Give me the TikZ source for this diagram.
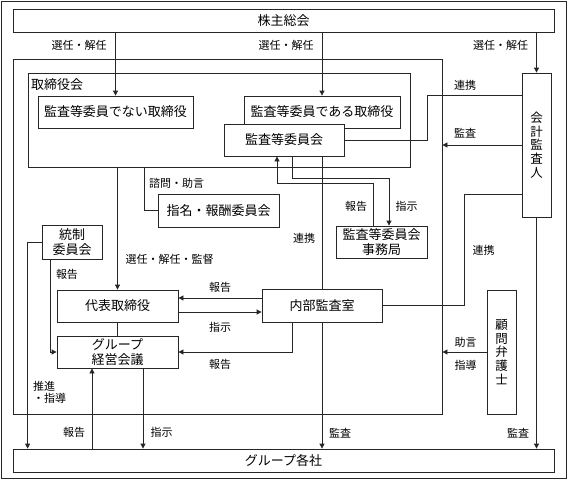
\documentclass[tikz,border=0pt]{standalone}
\usepackage{fontspec}
\setmainfont{Noto Sans CJK JP}
\usetikzlibrary{arrows.meta,calc}
\begin{document}
\begin{tikzpicture}[x=1pt,y=-1pt,
  line/.style={draw=black!85, line width=0.8pt},
  arr/.style={line, -{Triangle[length=5pt,width=5pt]}},
  box/.style={draw=black!85, line width=0.8pt, fill=white, inner sep=0pt, align=center, font=\fontsize{13}{15.5}\selectfont},
  vbox/.style={box, font=\fontsize{12.5}{13.7}\selectfont},
  frame/.style={draw=black!85, line width=0.8pt, inner sep=0pt},
  lbl/.style={font=\fontsize{11}{12}\selectfont, inner sep=0pt, align=left},
]
\useasboundingbox (0,0) rectangle (568,480);
\draw[line] (1,1) rectangle (566,478);

% frames
\node[frame, minimum width=429pt, minimum height=355pt] (company) at (227.5,236.5) {};
\node[frame, minimum width=382pt, minimum height=94pt] (board) at (219,120) {};
\node[anchor=west, inner sep=0pt, font=\fontsize{13}{15}\selectfont] (boardlbl) at (31,85) {取締役会};

% boxes
\node[box, minimum width=541pt, minimum height=23pt] (kabu) at (283.5,20.5) {株主総会};
\node[box, minimum width=155pt, minimum height=32pt] (kansanai) at (115.5,112) {監査等委員でない取締役};
\node[box, minimum width=156pt, minimum height=32pt] (kansaaru) at (322,112) {監査等委員である取締役};
\node[box, minimum width=120pt, minimum height=32pt] (iinkai) at (284,140) {監査等委員会};
\node[vbox, minimum width=29pt, minimum height=144pt] (kaikei) at (536.5,145) {会\\計\\監\\査\\人};
\node[box, minimum width=91pt, minimum height=32pt] (jimu) at (381.5,242) {監査等委員会\\事務局};
\node[box, minimum width=121pt, minimum height=33pt] (shimei) at (218.5,210.5) {指名・報酬委員会};
\node[box, minimum width=60pt, minimum height=34pt] (tosei) at (72,242) {統制\\委員会};
\node[box, minimum width=121pt, minimum height=32pt] (daihyo) at (117.5,306) {代表取締役};
\node[box, minimum width=121pt, minimum height=32pt] (gkaigi) at (117.5,352) {グループ\\経営会議};
\node[box, minimum width=120pt, minimum height=33pt] (naibu) at (322,305.5) {内部監査室};
\node[vbox, minimum width=29pt, minimum height=124pt] (komon) at (501.5,352) {顧\\問\\弁\\護\\士};
\node[box, minimum width=541pt, minimum height=23pt] (group) at (283.5,460.5) {グループ各社};

% connectors from shareholders
\draw[arr] (kabu.south -| kansanai.north) -- (kansanai.north);
\draw[arr] (kabu.south -| kansaaru.north) -- (kansaaru.north);
\draw[arr] (kabu.south -| kaikei.north) -- (kaikei.north);
\node[lbl] (l1) at (79,45) {選任・解任};
\node[lbl] (l2) at (286,45) {選任・解任};
\node[lbl] (l3) at (500.5,45) {選任・解任};

% auditors
\draw[line] (iinkai.east) -- ++(83,0) |- ([yshift=-23pt]kaikei.north west);
\node[lbl] (l4) at (465,85) {連携};
\draw[arr] (kaikei.west) -- (kaikei.west -| company.east);
\node[lbl] (l5) at (465,133) {監査};
\draw[line] ([yshift=-49pt]kaikei.west) -- ++(-57,0) |- (naibu.east);
\node[lbl] (l6) at (483.5,250) {連携};
\draw[arr] (kaikei.south) -- (kaikei.south |- group.north);
\node[lbl] (l7) at (518,433) {監査};

% audit committee
\draw[line] (iinkai.south -| naibu.north) -- (naibu.north);
\node[lbl] (l8) at (304,238) {連携};
\draw[arr] (naibu.south) -- (naibu.south |- group.north);
\node[lbl] (l9) at (340,433) {監査};
\draw[arr] ([xshift=-8.5pt]jimu.north) -- ++(0,-42) -| ([xshift=-7pt]iinkai.south);
\node[lbl] (l10) at (356,206) {報告};
\draw[arr] ([xshift=8pt]iinkai.south) -- ++(0,22) -| ([xshift=7.5pt]jimu.north);
\node[lbl] (l11) at (406.5,206) {指示};

% board
\draw[line] ([xshift=-75pt]board.south) |- (shimei.west);
\node[lbl, anchor=west] (l12) at (149,183) {諮問・助言};
\draw[arr] (board.south -| daihyo.north) -- (daihyo.north);
\node[lbl] (l13) at (169.5,259) {選任・解任・監督};

% control committee
\draw[arr] (tosei.west) -- ++(-14,0) coordinate (t1) -- (t1 |- group.north);
\node[lbl, anchor=west, font=\fontsize{11}{12}\selectfont] (l14) at (33,392) {推進\\・指導};
\draw[arr] ([xshift=-22pt]tosei.south) |- (gkaigi.west);
\node[lbl] (l15) at (67,274) {報告};

% representative / internal audit
\draw[arr] ([yshift=7.5pt]naibu.west) -- ([yshift=7.5pt]naibu.west -| daihyo.east);
\node[lbl] (l16) at (220,287) {報告};
\draw[arr] ([yshift=-6pt]daihyo.east) -- ([yshift=-6pt]daihyo.east -| naibu.west);
\node[lbl] (l17) at (220,327) {指示};
\draw[line] (daihyo.south) -- (gkaigi.north);
\draw[arr] ([xshift=-30pt]naibu.south) |- (gkaigi.east);
\node[lbl] (l18) at (220,364) {報告};

% group management meeting
\coordinate (gk1) at ([xshift=-25.5pt]gkaigi.south);
\coordinate (gk2) at ([xshift=25.5pt]gkaigi.south);
\draw[arr] (gk1 |- group.north) -- (gk1);
\node[lbl] (l19) at (74,432) {報告};
\draw[arr] (gk2) -- (gk2 |- group.north);
\node[lbl] (l20) at (161.5,432) {指示};

% lawyer
\draw[arr] (komon.west) -- (komon.west -| company.east);
\node[lbl] (l21) at (465.5,342) {助言};
\node[lbl] (l22) at (465.5,365) {指導};
\end{tikzpicture}
\end{document}
